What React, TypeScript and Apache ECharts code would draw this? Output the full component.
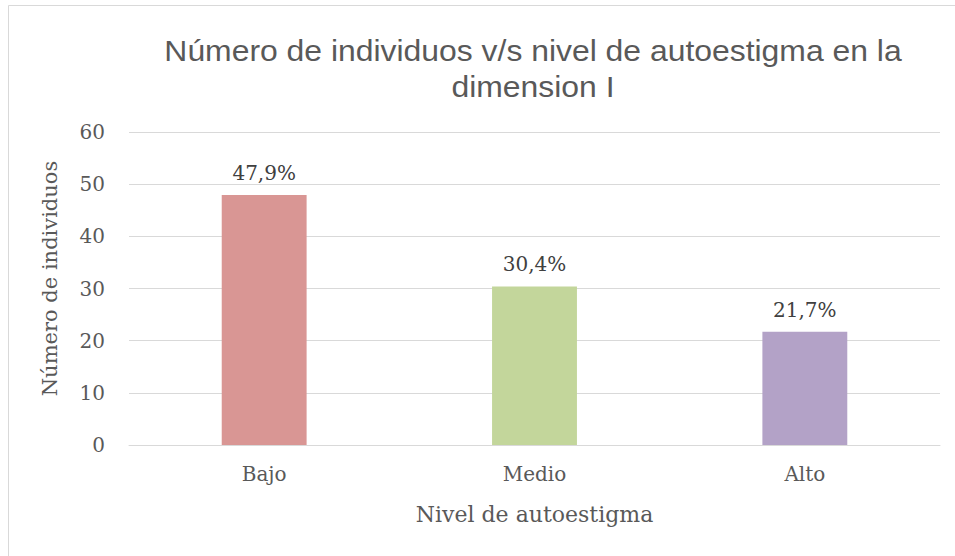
import React, { useEffect, useRef } from "react";
import * as echarts from "echarts";

const titleText = "Número de individuos v/s nivel de autoestigma en la\ndimension I";
const categories = ["Bajo", "Medio", "Alto"];
const values = [47.9, 30.4, 21.7];
const barColors = ["#D99694", "#C3D69B", "#B3A2C7"];
const yTicks = [0, 10, 20, 30, 40, 50, 60];

const SERIF = "'DejaVu Serif', 'Liberation Serif', serif";

export default function App() {
  const ref = useRef<HTMLDivElement>(null);
  useEffect(() => {
    if (!ref.current) return;
    const chart = echarts.init(ref.current, null, { renderer: "svg" });
    chart.setOption({
      animation: false,
      backgroundColor: "#ffffff",
      graphic: [
        {
          type: "line",
          shape: { x1: 8.5, y1: 5.5, x2: 955, y2: 5.5 },
          style: { stroke: "#D9D9D9", lineWidth: 1 },
        },
        {
          type: "line",
          shape: { x1: 8.5, y1: 5.5, x2: 8.5, y2: 556 },
          style: { stroke: "#D9D9D9", lineWidth: 1 },
        },
        {
          type: "text",
          x: 533,
          y: 33,
          scaleX: 1.1,
          style: {
            text: titleText,
            textAlign: "center",
            textVerticalAlign: "top",
            fontFamily: "'Liberation Sans', Arial, sans-serif",
            fontSize: 29,
            lineHeight: 36,
            fill: "#595959",
          },
        },
      ],
      grid: { left: 129, right: 15, top: 132, bottom: 111 },
      xAxis: {
        type: "category",
        data: categories,
        name: "Nivel de autoestigma",
        nameLocation: "middle",
        nameGap: 58,
        nameTextStyle: { fontFamily: SERIF, fontSize: 22, color: "#595959" },
        axisLine: { lineStyle: { color: "#D9D9D9", width: 1 } },
        axisTick: { show: false },
        axisLabel: { fontFamily: SERIF, fontSize: 20, color: "#595959", margin: 19 },
      },
      yAxis: {
        type: "value",
        min: yTicks[0],
        max: yTicks[yTicks.length - 1],
        interval: 10,
        name: "Número de individuos",
        nameLocation: "middle",
        nameGap: 69,
        nameTextStyle: {
          fontFamily: SERIF,
          fontSize: 21,
          color: "#595959",
          padding: [0, 0, 0, 20],
        },
        axisLine: { show: false },
        axisTick: { show: false },
        axisLabel: { fontFamily: SERIF, fontSize: 20, color: "#595959", margin: 24 },
        splitLine: { lineStyle: { color: "#D9D9D9", width: 1 } },
      },
      series: [
        {
          type: "bar",
          barWidth: "31.4%",
          data: values.map((v, i) => ({ value: v, itemStyle: { color: barColors[i] } })),
          label: {
            show: true,
            position: "top",
            distance: 12,
            fontFamily: SERIF,
            fontSize: 20,
            color: "#404040",
            formatter: (p: any) => p.value.toFixed(1).replace(".", ",") + "%",
          },
        },
      ],
    });
    return () => chart.dispose();
  }, []);
  return (
    <div
      ref={ref}
      style={{ position: "absolute", left: 0, top: 0, width: 955, height: 556 }}
    />
  );
}
